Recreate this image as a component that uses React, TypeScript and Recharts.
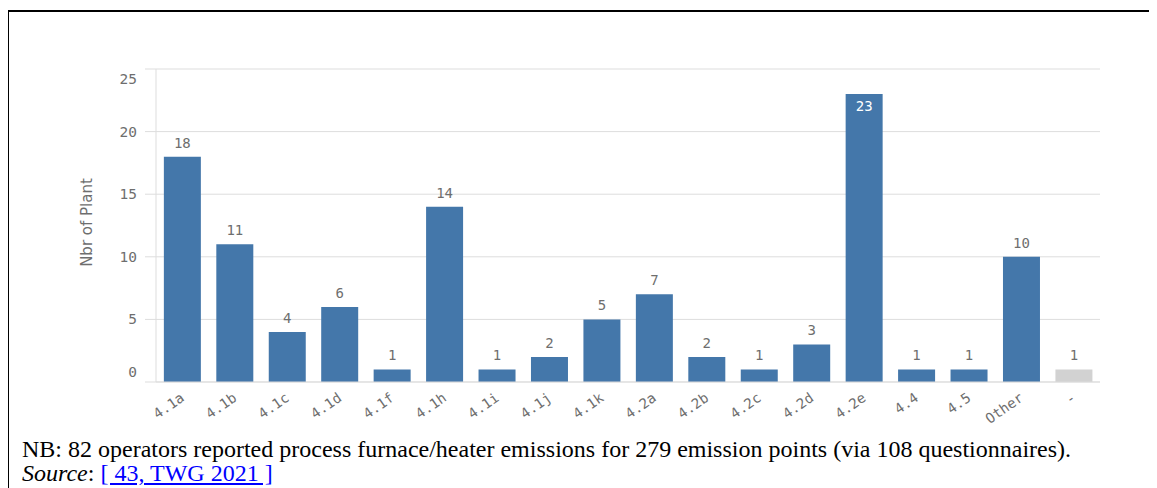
import React from 'react';
import { BarChart, Bar, XAxis, YAxis, CartesianGrid, Cell, LabelList } from 'recharts';

const categories = ['4.1a', '4.1b', '4.1c', '4.1d', '4.1f', '4.1h', '4.1i', '4.1j', '4.1k', '4.2a', '4.2b', '4.2c', '4.2d', '4.2e', '4.4', '4.5', 'Other', '-'];
const plantCounts = [18, 11, 4, 6, 1, 14, 1, 2, 5, 7, 2, 1, 3, 23, 1, 1, 10, 1];
const yTicks = [0, 5, 10, 15, 20, 25];

const data = categories.map((name, i) => ({ name, value: plantCounts[i] }));

const BLUE = '#4477aa';
const GREY = '#d2d2d2';
const TEXT = '#6e6e6e';
const MONO = '"DejaVu Sans Mono", monospace';

const YTick = (props: any) => {
  const { x, y, payload } = props;
  // Qlik nudges the first and last labels inside the plot
  let dy = 0;
  if (payload.value === 0) dy = -10;
  if (payload.value === 25) dy = 10;
  return (
    <text x={x} y={y + dy} textAnchor="end" dominantBaseline="central" fill={TEXT} fontSize={14.5} fontFamily={MONO}>
      {payload.value}
    </text>
  );
};

const XTick = (props: any) => {
  const { x, y, payload } = props;
  return (
    <text
      transform={`translate(${x + 3},${y + 18}) rotate(-35)`}
      textAnchor="end"
      fill={TEXT}
      fontSize={14}
      fontFamily={MONO}
    >
      {payload.value}
    </text>
  );
};

const ValueLabel = (props: any) => {
  const { x, y, width, value } = props;
  const cx = x + width / 2;
  if (value > 20) {
    return (
      <text x={cx} y={y + 12} textAnchor="middle" dominantBaseline="central" fill="#ffffff" fontSize={14} fontFamily={MONO}>
        {value}
      </text>
    );
  }
  return (
    <text x={cx} y={y - 14} textAnchor="middle" dominantBaseline="central" fill={TEXT} fontSize={14} fontFamily={MONO}>
      {value}
    </text>
  );
};

const YTitle = (props: any) => {
  const { viewBox } = props;
  const cx = 87;
  const cy = viewBox.y + viewBox.height / 2 - 3;
  return (
    <text
      x={cx}
      y={cy}
      transform={`rotate(-90 ${cx} ${cy})`}
      textAnchor="middle"
      dominantBaseline="central"
      fill={TEXT}
      fontSize={15}
      fontFamily='"DejaVu Sans", sans-serif'
    >
      Nbr of Plant
    </text>
  );
};

export default function App() {
  return (
    <div style={{ position: 'relative', width: 1157, height: 488 }}>
      <div
        style={{
          position: 'absolute',
          left: -1,
          top: 2,
          width: 1160,
          height: 490,
          borderLeft: '2px solid #000',
          borderTop: '2px solid #000',
        }}
      />
      <div style={{ position: 'absolute', left: -8, top: -8 }}>
        <BarChart
          width={1157}
          height={440}
          data={data}
          margin={{ top: 69, right: 57, bottom: 8, left: 96 }}
          barCategoryGap="15%"
        >
          <CartesianGrid vertical={false} stroke="#dddddd" />
          <XAxis
            dataKey="name"
            interval={0}
            height={50}
            tickLine={false}
            tickSize={0}
            tickMargin={0}
            axisLine={{ stroke: '#dddddd' }}
            tick={<XTick />}
          />
          <YAxis
            width={60}
            domain={[0, 25]}
            ticks={yTicks}
            tickSize={11}
            tickMargin={8}
            tickLine={{ stroke: '#dddddd' }}
            axisLine={{ stroke: '#dddddd' }}
            tick={<YTick />}
            label={<YTitle />}
          />
          <Bar dataKey="value" isAnimationActive={false}>
            {data.map((d) => (
              <Cell key={d.name} fill={d.name === '-' ? GREY : BLUE} />
            ))}
            <LabelList dataKey="value" content={<ValueLabel />} />
          </Bar>
        </BarChart>
      </div>
      <div
        style={{
          position: 'absolute',
          left: 14,
          top: 429,
          fontFamily: '"Liberation Serif", "Times New Roman", serif',
          fontSize: 24,
          lineHeight: '24px',
          color: '#000',
          whiteSpace: 'nowrap',
        }}
      >
        <div>NB: 82 operators reported process furnace/heater emissions for 279 emission points (via 108 questionnaires).</div>
        <div>
          <i>Source</i>: <a href="#" style={{ color: '#0000ff' }}>[ 43, TWG 2021 ]</a>
        </div>
      </div>
    </div>
  );
}
